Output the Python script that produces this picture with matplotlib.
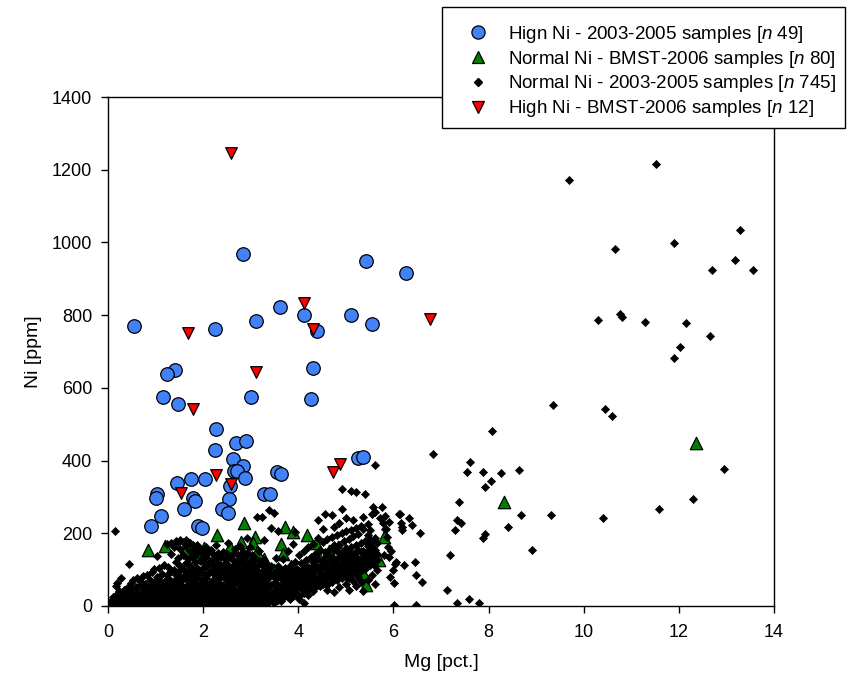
import matplotlib
matplotlib.use("Agg")
import matplotlib.pyplot as plt
from matplotlib.lines import Line2D
from matplotlib.patches import Rectangle

plt.rcParams['font.family'] = ['Liberation Sans', 'DejaVu Sans']
plt.rcParams['mathtext.fontset'] = 'custom'
plt.rcParams['mathtext.it'] = 'Liberation Sans:italic'
plt.rcParams['mathtext.rm'] = 'Liberation Sans'

# ---------------- data ----------------
labels = ["Hign Ni - 2003-2005 samples [$\\mathit{n}$ 49]",
          "Normal Ni - BMST-2006 samples [$\\mathit{n}$ 80]",
          "Normal Ni - 2003-2005 samples [$\\mathit{n}$ 745]",
          "High Ni - BMST-2006 samples [$\\mathit{n}$ 12]"]

high_ni_0305_mg = [0.55, 2.84, 5.43, 6.27, 3.61, 4.11, 5.10, 5.55, 3.12, 2.25, 4.40, 4.30, 1.41, 1.25,
                   1.16, 1.48, 3.00, 4.26, 2.27, 2.25, 2.69, 2.91, 2.62, 2.84, 2.64, 2.71, 2.89, 2.57,
                   2.54, 2.39, 2.52, 3.55, 3.63, 3.28, 3.40, 5.25, 5.36, 2.04, 1.74, 1.46, 1.78, 1.83,
                   1.60, 1.04, 1.01, 1.11, 0.91, 1.89, 1.97]
high_ni_0305_ni = [771, 967, 950, 915, 822, 801, 801, 775, 783, 762, 757, 655, 649, 638,
                   574, 555, 574, 569, 488, 429, 449, 453, 405, 385, 371, 371, 351, 330,
                   295, 268, 255, 368, 362, 309, 309, 407, 409, 349, 348, 339, 298, 289,
                   267, 308, 298, 248, 220, 220, 214]

high_ni_bmst_mg = [2.58, 1.68, 4.11, 4.30, 6.76, 3.11, 1.78, 1.54, 2.28, 2.58, 4.74, 4.88]
high_ni_bmst_ni = [1245, 750, 834, 761, 790, 644, 542, 311, 360, 335, 369, 390]

normal_bmst_mg = [2.85, 2.30, 0.85, 1.20, 1.61, 2.02, 1.86, 2.79, 3.08, 3.05, 3.72, 3.89, 4.19, 4.37,
                  3.64, 3.68, 2.79, 4.42, 4.84, 5.03, 4.96, 5.69, 5.43, 3.28, 3.15, 3.27, 3.04, 3.48,
                  2.57, 12.37, 8.33, 4.39, 5.09, 4.71, 4.00, 3.13, 2.74, 2.18, 1.82, 0.77, 1.38, 1.62,
                  0.10, 0.20, 0.30, 0.45, 0.55, 0.65, 0.90, 1.00, 1.10, 1.25, 1.45, 1.55, 1.70, 1.80,
                  1.95, 2.05, 2.20, 2.35, 2.45, 2.55, 2.65, 2.75, 2.90, 3.00, 3.20, 3.35, 3.55, 3.75,
                  3.85, 4.10, 4.25, 4.55, 4.65, 4.80, 5.20, 5.35, 5.50, 5.80]
normal_bmst_ni = [229, 195, 154, 165, 152, 160, 142, 176, 190, 174, 218, 204, 195, 172,
                  170, 144, 140, 140, 163, 135, 123, 126, 57, 89, 39, 129, 68, 98,
                  163, 447, 286, 133, 103, 106, 43, 149, 103, 43, 150, 34, 45, 85,
                  5, 10, 3, 15, 8, 25, 12, 40, 20, 55, 30, 10, 60, 25,
                  90, 15, 70, 30, 110, 50, 20, 80, 35, 120, 60, 25, 45, 70,
                  110, 90, 60, 120, 150, 100, 140, 90, 160, 190]

# Normal Ni 2003-2005: dense cluster, columns of (Mg, [Ni values])
normal_0305_low_mg = [
    (0.03, [0, 4, 9, 2]), (0.07, [1, 12, 6]), (0.11, [3, 18, 7, 26]), (0.16, [0, 11, 22, 55]),
    (0.19, [5, 15, 33, 62]), (0.24, [9, 24, 3, 40]), (0.28, [2, 14, 31, 78]), (0.33, [7, 19, 44]),
    (0.37, [0, 13, 27, 38]), (0.43, [17, 29, 6, 52]), (0.48, [9, 21, 47, 63]), (0.52, [1, 16, 33, 71]),
    (0.58, [11, 27, 53, 4]), (0.62, [6, 22, 38, 77]), (0.68, [13, 31, 57, 68, 2]), (0.73, [4, 24, 46, 82]),
    (0.77, [14, 36, 61, 9]), (0.83, [7, 29, 51, 86]), (0.88, [3, 19, 42, 72]), (0.92, [11, 33, 56, 93]),
    (0.97, [5, 26, 44, 66, 101]),
    (1.02, [14, 37, 59, 81, 138]), (1.08, [2, 23, 49, 71, 104]), (1.13, [9, 31, 54, 88, 7]),
    (1.18, [4, 19, 43, 66, 113, 28]), (1.23, [15, 36, 61, 84, 171]), (1.27, [7, 27, 51, 76, 108, 2]),
    (1.33, [17, 41, 63, 96, 142, 174]), (1.38, [3, 24, 47, 69, 99, 163, 12]),
    (1.43, [11, 34, 57, 86, 121, 179]), (1.47, [5, 21, 46, 67, 94, 131, 176]),
    (1.52, [14, 39, 61, 79, 111, 157, 181, 2]), (1.57, [3, 27, 49, 74, 101, 139, 177]),
    (1.63, [9, 33, 56, 87, 119, 166, 182, 19]), (1.68, [4, 21, 44, 71, 96, 129, 175]),
    (1.72, [13, 37, 63, 84, 109, 151, 173, 1]), (1.78, [7, 26, 53, 77, 99, 136, 169]),
    (1.83, [17, 41, 66, 91, 121, 159, 30]), (1.88, [3, 29, 54, 81, 104, 146, 167]),
    (1.93, [11, 36, 59, 93, 124, 156, 8]), (1.98, [6, 23, 47, 71, 101, 129, 151]),
]
normal_0305_mid_mg = [
    (2.03, [14, 39, 63, 84, 116, 141, 2]), (2.07, [4, 27, 51, 77, 106, 134, 163]),
    (2.12, [9, 34, 57, 91, 119, 151, 22]), (2.17, [6, 19, 46, 67, 96, 124, 154]),
    (2.22, [13, 37, 61, 87, 111, 139, 1]), (2.28, [8, 26, 53, 74, 99, 131, 168]),
    (2.32, [17, 43, 66, 93, 117, 146, 31]), (2.38, [3, 29, 56, 79, 106, 136, 11]),
    (2.42, [12, 34, 59, 86, 113, 149, 47]), (2.47, [5, 23, 49, 73, 97, 126, 145]),
    (2.53, [16, 41, 63, 89, 114, 139, 174]), (2.58, [2, 29, 51, 77, 103, 131, 21]),
    (2.63, [11, 36, 57, 83, 109, 144, 7]), (2.68, [4, 19, 44, 69, 94, 121, 156]),
    (2.73, [13, 39, 62, 87, 116, 141, 29]), (2.78, [8, 24, 49, 76, 101, 127, 164]),
    (2.83, [18, 43, 66, 91, 119, 149, 3]), (2.88, [5, 31, 54, 81, 104, 134, 14]),
    (2.93, [12, 34, 61, 84, 111, 146, 188]), (2.98, [6, 22, 47, 73, 97, 124, 163]),
    (3.03, [15, 41, 63, 87, 116, 139]), (3.08, [9, 27, 53, 79, 101, 131, 4]),
    (3.13, [18, 36, 57, 83, 109, 246]), (3.17, [5, 21, 44, 71, 94, 123, 151]),
    (3.23, [13, 37, 61, 89, 114, 244]), (3.27, [8, 26, 49, 74, 99, 127, 182]),
    (3.33, [19, 42, 66, 93, 117, 6]), (3.38, [11, 31, 54, 81, 104, 263]),
    (3.43, [21, 36, 59, 86, 111, 214]), (3.48, [12, 39, 64, 91, 256, 9]),
    (3.53, [24, 47, 73, 97, 131]), (3.58, [16, 34, 57, 83, 109, 205]),
    (3.63, [27, 51, 76, 99, 13]), (3.68, [21, 43, 64, 87, 129]),
    (3.73, [29, 56, 77, 104, 36]), (3.78, [24, 46, 69, 93, 151]),
    (3.83, [34, 59, 81, 109, 18]), (3.88, [27, 49, 71, 96, 171]),
    (3.93, [39, 63, 86, 121, 203]), (3.97, [31, 52, 74, 101]),
]
normal_0305_band = [
    (4.02, [28, 57, 84, 97, 141, 19]), (4.06, [49, 63, 95, 118, 72]), (4.11, [36, 66, 79, 109, 151, 8]),
    (4.16, [53, 70, 99, 127, 41]), (4.21, [47, 62, 91, 108, 161, 31]), (4.26, [58, 81, 104, 134, 88]),
    (4.31, [42, 75, 96, 121, 171, 66]), (4.36, [64, 79, 111, 143, 51]), (4.41, [57, 73, 99, 128, 237, 186]),
    (4.46, [69, 92, 108, 154, 55]), (4.51, [61, 84, 107, 124, 176, 211]), (4.56, [74, 89, 118, 149, 252, 63]),
    (4.61, [59, 91, 104, 139, 184, 45]), (4.66, [79, 94, 126, 158, 73]), (4.71, [66, 88, 117, 135, 191, 250]),
    (4.76, [84, 107, 121, 169, 216, 38]), (4.81, [72, 99, 113, 151, 194, 129]),
    (4.86, [89, 104, 136, 168, 52, 229]), (4.91, [77, 108, 119, 147, 201, 266, 321]),
    (4.96, [94, 116, 131, 179, 143]), (5.01, [81, 111, 126, 159, 206, 241, 60]),
    (5.06, [99, 114, 146, 183, 76, 45]), (5.11, [86, 108, 138, 163, 209, 316]),
    (5.16, [104, 126, 142, 193, 236, 70]), (5.21, [97, 119, 134, 169, 214, 314, 55]),
    (5.26, [109, 123, 155, 199, 81]), (5.31, [96, 127, 148, 174, 221, 66]),
    (5.36, [114, 136, 152, 212, 246, 40]), (5.41, [101, 129, 145, 178, 307]),
    (5.46, [119, 141, 166, 194, 226, 72]), (5.51, [112, 128, 157, 184, 208]),
    (5.56, [124, 146, 161, 253, 85]), (5.61, [111, 139, 153, 188, 258, 60]), (5.66, [127, 144, 174, 99]),
]
normal_0305_sparse_mg = [11.53, 9.69, 13.29, 11.89, 10.66, 13.19, 12.70, 13.55, 10.31, 10.76, 10.80, 11.29,
                         12.16, 12.65, 12.02, 11.89, 9.36, 10.45, 10.59, 8.08, 6.83, 7.61, 7.54, 7.88,
                         8.26, 8.63, 8.05, 7.93, 7.38, 7.33, 7.42, 7.29, 8.69, 9.31, 10.40, 11.58,
                         12.29, 12.95, 8.40, 7.92, 7.89, 8.92, 7.18, 7.13, 7.33, 7.58, 7.80, 6.01,
                         6.48, 5.77, 5.83, 5.72, 5.79, 5.91, 5.83, 6.12, 6.16, 6.19, 6.17, 6.32,
                         6.39, 6.56, 5.88, 5.90, 6.06, 6.03, 6.22, 6.46, 5.92, 6.02, 6.48, 6.61,
                         5.62, 0.14, 0.45, 5.57, 5.84, 6.14, 5.53, 5.62, 5.86, 5.95, 6.00, 5.80]
normal_0305_sparse_ni = [1217, 1173, 1033, 999, 981, 952, 924, 923, 788, 803, 795, 780,
                         779, 743, 713, 682, 553, 542, 522, 481, 418, 397, 369, 369,
                         367, 374, 345, 326, 286, 237, 229, 209, 249, 250, 242, 267,
                         295, 376, 218, 199, 186, 154, 139, 44, 9, 19, 7, 4,
                         4, 273, 248, 242, 227, 231, 212, 253, 229, 216, 208, 241,
                         224, 200, 162, 134, 121, 116, 114, 120, 79, 62, 86, 65,
                         388, 207, 115, 273, 211, 254, 176, 149, 190, 150, 100, 140]


def expand(cols):
    xs, ys = [], []
    for x, vals in cols:
        for v in vals:
            xs.append(x)
            ys.append(v)
    return xs, ys


nx, ny = [], []
for cols in (normal_0305_low_mg, normal_0305_mid_mg, normal_0305_band):
    a, b = expand(cols)
    nx += a
    ny += b
nx += normal_0305_sparse_mg
ny += normal_0305_sparse_ni

# ---------------- styles ----------------
blue = '#4282F8'
green = '#007F00'
red = '#FF0000'
W, H = 850, 695

fig = plt.figure(figsize=(8.5, 6.95), dpi=100)
ax = fig.add_axes([108 / W, 1 - 606 / H, (774 - 108) / W, (606 - 97) / H])

ax.scatter(normal_bmst_mg, normal_bmst_ni, marker='^', s=80, c=green, edgecolors='black',
           linewidths=0.9, zorder=3)
ax.scatter(nx, ny, marker='D', s=17, c='black', edgecolors='black', linewidths=0.5, zorder=4)
ax.scatter(high_ni_0305_mg, high_ni_0305_ni, marker='o', s=95, c=blue, edgecolors='black',
           linewidths=0.9, zorder=5)
ax.scatter(high_ni_bmst_mg, high_ni_bmst_ni, marker='v', s=70, c=red, edgecolors='black',
           linewidths=0.9, zorder=6)

ax.set_xlim(0, 14)
ax.set_ylim(0, 1400)
ax.set_xticks(range(0, 15, 2))
ax.set_yticks(range(0, 1401, 200))
ax.tick_params(direction='out', length=4.8, width=1, labelsize=13, colors='black')
ax.tick_params(axis='x', pad=8.5)
ax.tick_params(axis='y', pad=6.5)
for sp in ax.spines.values():
    sp.set_linewidth(1)
    sp.set_color('black')

ax.set_xlabel('Mg [pct.]', fontsize=14, labelpad=9)
ax.set_ylabel('Ni [ppm]', fontsize=14, labelpad=7)

handles = [
    Line2D([], [], linestyle='none', marker='o', markersize=9.5, markerfacecolor=blue,
           markeredgecolor='black', markeredgewidth=0.9),
    Line2D([], [], linestyle='none', marker='^', markersize=9, markerfacecolor=green,
           markeredgecolor='black', markeredgewidth=0.9),
    Line2D([], [], linestyle='none', marker='D', markersize=3.6, markerfacecolor='black',
           markeredgecolor='black'),
    Line2D([], [], linestyle='none', marker='v', markersize=8.5, markerfacecolor=red,
           markeredgecolor='black', markeredgewidth=0.9),
]
# legend box
box = Rectangle((442 / W, 1 - 128 / H), (845 - 442) / W, (128 - 7) / H, transform=fig.transFigure,
                facecolor='white', edgecolor='black', linewidth=1, zorder=9)
fig.patches.append(box)
leg = fig.legend(handles, labels, loc='upper left', bbox_to_anchor=(463 / W, 1 - 24 / H),
                 frameon=False, fontsize=13.5, handletextpad=0.8, borderpad=0, labelspacing=0.2,
                 handlelength=1.6, borderaxespad=0)
leg.set_zorder(10)

fig.savefig('out.png', dpi=100)
